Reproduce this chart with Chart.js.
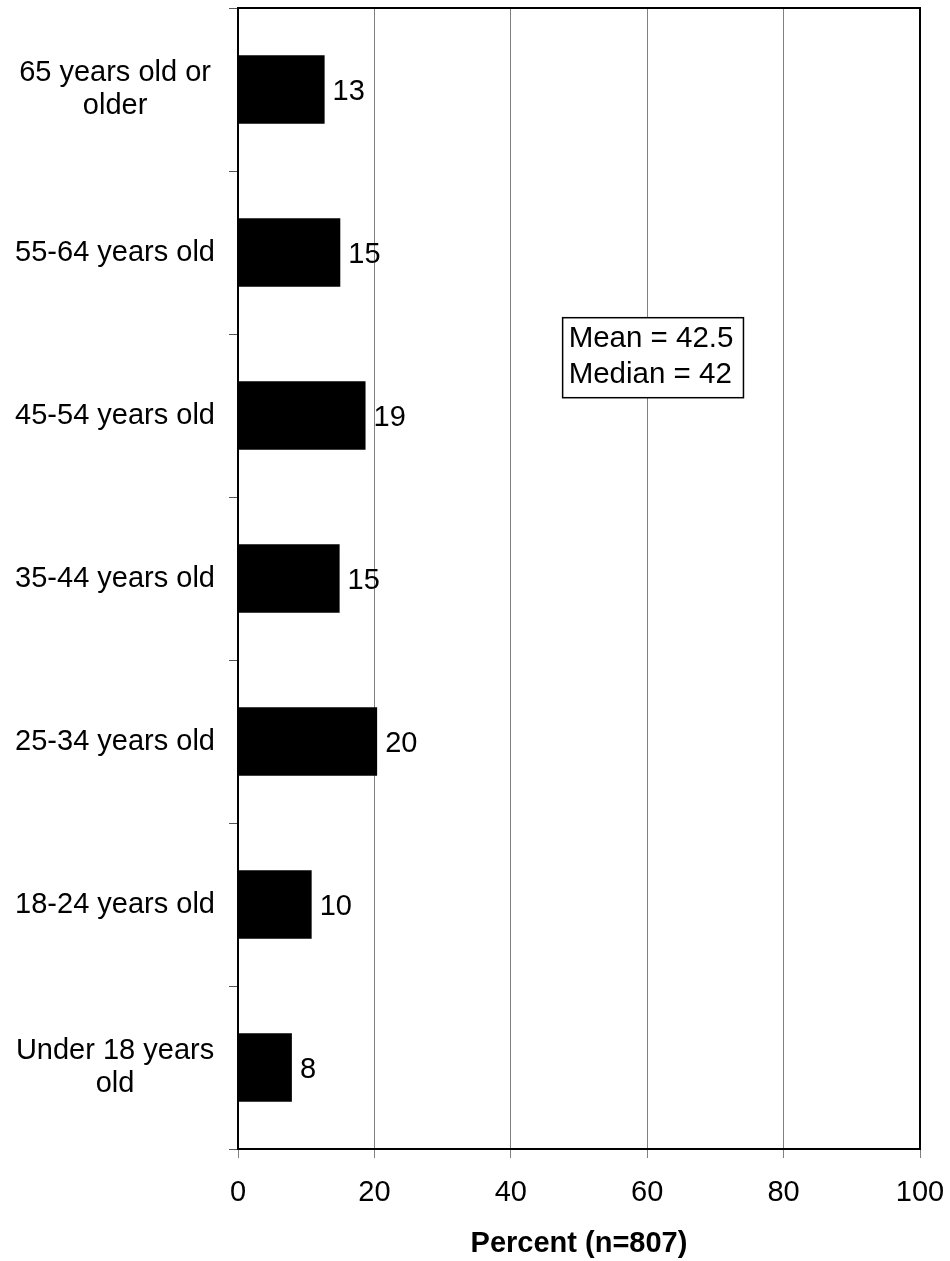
<!DOCTYPE html>
<html>
<head>
<meta charset="utf-8">
<script src="https://cdn.jsdelivr.net/npm/chart.js@4/dist/chart.umd.min.js"></script>
<style>
  html, body { margin: 0; padding: 0; background: #fff; }
  #wrap { width: 950px; height: 1261px; }
</style>
</head>
<body>
<div id="wrap"><canvas id="graphCanvas"></canvas></div>
<script>
var ageGroups = [
    ['65 years old or', 'older'],
    '55-64 years old',
    '45-54 years old',
    '35-44 years old',
    '25-34 years old',
    '18-24 years old',
    ['Under 18 years', 'old']
];
var percents = [12.7, 15.0, 18.7, 14.9, 20.4, 10.8, 7.9];
var valueLabels = ['13', '15', '19', '15', '20', '10', '8'];
var xTicks = [0, 20, 40, 60, 80, 100];
var noteLines = ['Mean = 42.5', 'Median = 42'];

var FONT = 'Arial, "Liberation Sans", sans-serif';

// numbers at the end of each bar
var barValues = {
    id: 'barValues',
    afterDatasetsDraw: function(chart) {
        var ctx = chart.ctx;
        var meta = chart.getDatasetMeta(0);
        ctx.save();
        ctx.font = '29px ' + FONT;
        ctx.fillStyle = '#000';
        ctx.textAlign = 'left';
        ctx.textBaseline = 'middle';
        meta.data.forEach(function(bar, i) {
            ctx.fillText(valueLabels[i], bar.x + 8, bar.y + 2);
        });
        ctx.restore();
    }
};

// top/right frame plus the mean/median note
var frameAndNote = {
    id: 'frameAndNote',
    afterDraw: function(chart) {
        var ctx = chart.ctx;
        var a = chart.chartArea;
        var x = chart.scales.x, y = chart.scales.y;
        ctx.save();
        ctx.strokeStyle = '#000';
        ctx.lineWidth = 2;
        ctx.beginPath();
        ctx.moveTo(a.left, a.top);
        ctx.lineTo(a.right, a.top);
        ctx.lineTo(a.right, a.bottom);
        ctx.stroke();

        ctx.font = '29.5px ' + FONT;
        var w = 0;
        noteLines.forEach(function(t) { w = Math.max(w, ctx.measureText(t).width); });
        var bx = x.getPixelForValue(47.6);
        var by = y.getPixelForValue(1.4);
        var bw = w + 16, bh = 80;
        ctx.fillStyle = '#fff';
        ctx.fillRect(bx, by, bw, bh);
        ctx.lineWidth = 1.5;
        ctx.strokeRect(bx, by, bw, bh);
        ctx.fillStyle = '#000';
        ctx.textAlign = 'left';
        ctx.textBaseline = 'middle';
        noteLines.forEach(function(t, i) {
            ctx.fillText(t, bx + 6, by + 21 + i * 36);
        });
        ctx.restore();
    }
};

var chartdata = {
    labels: ageGroups,
    datasets: [{
        label: 'Percent',
        backgroundColor: '#000',
        borderColor: '#000',
        borderWidth: 0,
        barPercentage: 0.42,
        categoryPercentage: 1,
        data: percents
    }]
};

var graphTarget = document.getElementById('graphCanvas');

var barGraph = new Chart(graphTarget, {
    type: 'bar',
    data: chartdata,
    plugins: [barValues, frameAndNote],
    options: {
        indexAxis: 'y',
        responsive: true,
        maintainAspectRatio: false,
        animation: false,
        layout: { padding: { top: 8, right: 30, left: 0, bottom: 0 } },
        plugins: {
            legend: { display: false },
            tooltip: { enabled: false }
        },
        scales: {
            x: {
                min: 0,
                max: 100,
                afterBuildTicks: function(scale) {
                    scale.ticks = xTicks.map(function(v) { return { value: v }; });
                },
                grid: {
                    color: '#808080',
                    lineWidth: 1,
                    tickLength: 9,
                    drawTicks: true
                },
                border: { color: '#000', width: 2 },
                ticks: {
                    color: '#000',
                    font: { family: FONT, size: 29 },
                    padding: 18,
                    maxRotation: 0
                },
                title: {
                    display: true,
                    text: 'Percent (n=807)',
                    color: '#000',
                    font: { family: FONT, size: 29, weight: 'bold' },
                    padding: { top: 10, bottom: 0 }
                },
                afterFit: function(scale) {
                    scale.height = 112;
                    scale.paddingLeft = 0;
                    scale.paddingRight = 0;
                }
            },
            y: {
                offset: true,
                grid: {
                    offset: true,
                    drawOnChartArea: false,
                    drawTicks: true,
                    tickLength: 9,
                    color: '#555'
                },
                border: { color: '#000', width: 2 },
                ticks: {
                    color: '#000',
                    crossAlign: 'center',
                    padding: 14,
                    font: { family: FONT, size: 29, lineHeight: 1.15 }
                },
                afterFit: function(scale) {
                    scale.width = 238;
                    scale.paddingTop = 0;
                    scale.paddingBottom = 0;
                }
            }
        }
    }
});
</script>
</body>
</html>
